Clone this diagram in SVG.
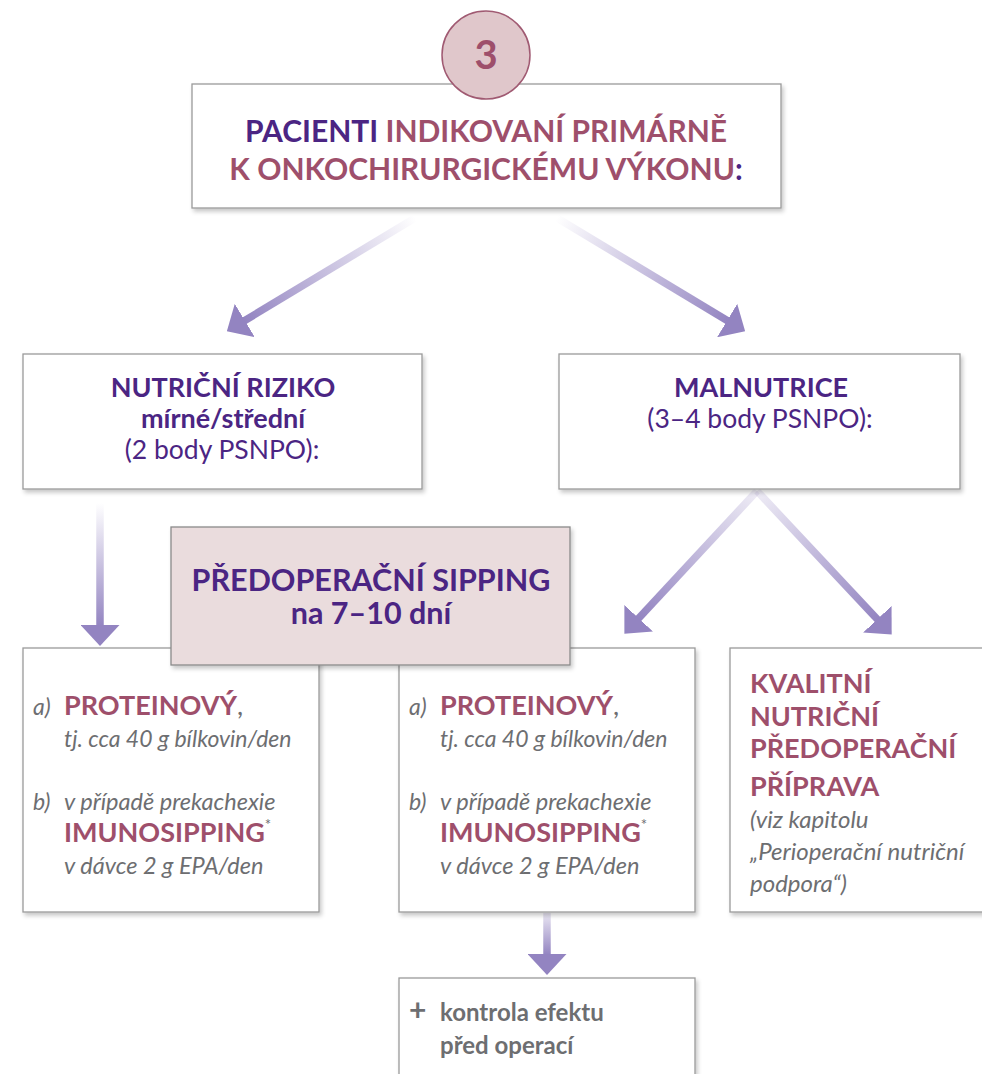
<svg xmlns="http://www.w3.org/2000/svg" width="982" height="1074" viewBox="0 0 982 1074">
<style>
text{font-family:Lato,"Open Sans","Liberation Sans",sans-serif}
.box{fill:#ffffff;stroke:#9a9a9a;stroke-width:1.3}
.pur{fill:#4b2583}
.mau{fill:#9e4f6b}
.gry{fill:#6d6e71}
.b{font-weight:700}
.l{font-weight:400}
.i{font-style:italic;font-weight:400}
.conn line{stroke-width:7.5;fill:none}
</style>
<defs>
<filter id="sh" x="-5%" y="-5%" width="112%" height="115%">
<feDropShadow dx="2" dy="3" stdDeviation="2" flood-color="#000" flood-opacity="0.22"/>
</filter>
<marker id="ah" viewBox="0 0 21 39" refX="1" refY="19.5" markerWidth="21" markerHeight="39" orient="auto" markerUnits="userSpaceOnUse">
<path d="M0,0 L21,19.5 L0,39 z" fill="#9384c1"/>
</marker>
<linearGradient id="g1" gradientUnits="userSpaceOnUse" x1="415" y1="218" x2="244" y2="321"><stop offset="0" stop-color="#9384c1" stop-opacity="0"/><stop offset="1" stop-color="#9384c1"/></linearGradient>
<linearGradient id="g2" gradientUnits="userSpaceOnUse" x1="557" y1="218" x2="728" y2="321"><stop offset="0" stop-color="#9384c1" stop-opacity="0"/><stop offset="1" stop-color="#9384c1"/></linearGradient>
<linearGradient id="g3" gradientUnits="userSpaceOnUse" x1="100" y1="503" x2="100" y2="626"><stop offset="0" stop-color="#9384c1" stop-opacity="0"/><stop offset="1" stop-color="#9384c1"/></linearGradient>
<linearGradient id="g4" gradientUnits="userSpaceOnUse" x1="757" y1="491" x2="638" y2="619"><stop offset="0" stop-color="#9384c1" stop-opacity="0.15"/><stop offset="1" stop-color="#9384c1"/></linearGradient>
<linearGradient id="g5" gradientUnits="userSpaceOnUse" x1="757" y1="491" x2="878" y2="620"><stop offset="0" stop-color="#9384c1" stop-opacity="0.15"/><stop offset="1" stop-color="#9384c1"/></linearGradient>
<linearGradient id="g6" gradientUnits="userSpaceOnUse" x1="547" y1="913" x2="547" y2="955"><stop offset="0" stop-color="#9384c1" stop-opacity="0.2"/><stop offset="1" stop-color="#9384c1"/></linearGradient>
</defs>

<g id="connectors" class="conn">
<line x1="415" y1="218" x2="244" y2="321" stroke="url(#g1)" marker-end="url(#ah)"/>
<line x1="557" y1="218" x2="728" y2="321" stroke="url(#g2)" marker-end="url(#ah)"/>
<line x1="100" y1="503" x2="100" y2="626" stroke="url(#g3)" marker-end="url(#ah)"/>
<line x1="757" y1="491" x2="638" y2="619" stroke="url(#g4)" marker-end="url(#ah)"/>
<line x1="757" y1="491" x2="878" y2="620" stroke="url(#g5)" marker-end="url(#ah)"/>
<line x1="547" y1="913" x2="547" y2="955" stroke="url(#g6)" marker-end="url(#ah)"/>
</g>

<g id="top">
<rect class="box" x="192" y="84" width="589" height="124" filter="url(#sh)"/>
<text x="486" y="142" text-anchor="middle" font-size="30" class="b"><tspan class="pur">PACIENTI</tspan><tspan class="mau"> INDIKOVANÍ PRIMÁRNĚ</tspan></text>
<text x="486" y="180" text-anchor="middle" font-size="30" class="b"><tspan class="mau">K ONKOCHIRURGICKÉMU VÝKONU</tspan><tspan class="pur">:</tspan></text>
</g>

<g id="badge">
<circle cx="486" cy="55" r="44" fill="#e0c7cb" stroke="#a05a72" stroke-width="1.5"/>
<text x="486" y="69" text-anchor="middle" font-size="40" class="b mau">3</text>
</g>

<g id="riziko">
<rect class="box" x="23" y="354" width="399" height="135" filter="url(#sh)"/>
<text x="223" y="397" text-anchor="middle" font-size="27" class="b pur">NUTRIČNÍ RIZIKO</text>
<text x="223" y="428" text-anchor="middle" font-size="27" class="b pur">mírné/střední</text>
<text x="222" y="459" text-anchor="middle" font-size="26.5" class="l pur">(2 body PSNPO):</text>
</g>

<g id="malnutrice">
<rect class="box" x="559" y="354" width="401" height="135" filter="url(#sh)"/>
<text x="761" y="397" text-anchor="middle" font-size="27" class="b pur">MALNUTRICE</text>
<text x="760" y="428" text-anchor="middle" font-size="26.5" class="l pur">(3–4 body PSNPO):</text>
</g>

<g id="boxA">
<rect class="box" x="23" y="648" width="296" height="264" filter="url(#sh)"/>
<text x="33" y="715" font-size="23" class="i gry">a)</text>
<text x="64" y="715" font-size="27" class="b mau">PROTEINOVÝ<tspan class="gry" font-weight="400">,</tspan></text>
<text x="64" y="747" font-size="23" class="i gry">tj. cca 40 g bílkovin/den</text>
<text x="33" y="810" font-size="23" class="i gry">b)</text>
<text x="64" y="810" font-size="23.5" class="i gry">v případě prekachexie</text>
<text x="64" y="842" font-size="27" class="b mau">IMUNOSIPPING<tspan class="gry" font-weight="400" font-size="15" dy="-12">*</tspan></text>
<text x="64" y="874" font-size="23.5" class="i gry">v dávce 2 g EPA/den</text>
</g>

<g id="boxB">
<rect class="box" x="399" y="648" width="296" height="264" filter="url(#sh)"/>
<text x="409" y="715" font-size="23" class="i gry">a)</text>
<text x="440" y="715" font-size="27" class="b mau">PROTEINOVÝ<tspan class="gry" font-weight="400">,</tspan></text>
<text x="440" y="747" font-size="23" class="i gry">tj. cca 40 g bílkovin/den</text>
<text x="409" y="810" font-size="23" class="i gry">b)</text>
<text x="440" y="810" font-size="23.5" class="i gry">v případě prekachexie</text>
<text x="440" y="842" font-size="27" class="b mau">IMUNOSIPPING<tspan class="gry" font-weight="400" font-size="15" dy="-12">*</tspan></text>
<text x="440" y="874" font-size="23.5" class="i gry">v dávce 2 g EPA/den</text>
</g>

<g id="boxC">
<rect class="box" x="730" y="648" width="262" height="264" filter="url(#sh)"/>
<text x="750" y="693" font-size="27" class="b mau">KVALITNÍ</text>
<text x="750" y="726" font-size="27" class="b mau">NUTRIČNÍ</text>
<text x="750" y="758" font-size="27" class="b mau">PŘEDOPERAČNÍ</text>
<text x="750" y="796" font-size="27" class="b mau">PŘÍPRAVA</text>
<text x="750" y="828" font-size="24" class="i gry">(viz kapitolu</text>
<text x="750" y="860" font-size="24" class="i gry">„Perioperační nutriční</text>
<text x="750" y="892" font-size="24" class="i gry">podpora“)</text>
</g>

<g id="sipping">
<rect x="171" y="527" width="399" height="138" fill="#eadcdd" stroke="#8a8a8a" stroke-width="1.3" filter="url(#sh)"/>
<text x="371" y="591" text-anchor="middle" font-size="30.5" class="b pur">PŘEDOPERAČNÍ SIPPING</text>
<text x="371" y="624" text-anchor="middle" font-size="30.5" class="b pur">na 7–10 dní</text>
</g>

<g id="boxD">
<rect class="box" x="399" y="978" width="296" height="110" filter="url(#sh)"/>
<text x="409" y="1021" font-size="30" class="b gry">+</text>
<text x="440" y="1021" font-size="24" class="b gry">kontrola efektu</text>
<text x="440" y="1054" font-size="24" class="b gry">před operací</text>
</g>
</svg>
